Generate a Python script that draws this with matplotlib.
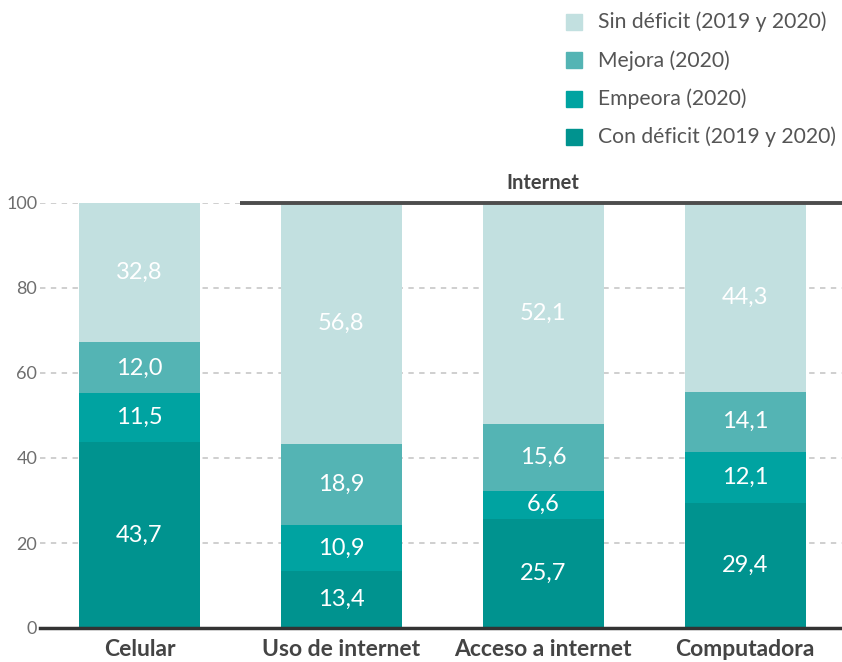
import numpy as np
import matplotlib
matplotlib.use("Agg")
import matplotlib.pyplot as plt
from matplotlib.patches import Rectangle

categorias = ["Celular", "Uso de internet", "Acceso a internet", "Computadora"]
con_deficit = [43.7, 13.4, 25.7, 29.4]
empeora = [11.5, 10.9, 6.6, 12.1]
mejora = [12.0, 18.9, 15.6, 14.1]
sin_deficit = [32.8, 56.8, 52.1, 44.3]

series = [
    ("Con déficit (2019 y 2020)", con_deficit, "#00938f"),
    ("Empeora (2020)", empeora, "#00a3a1"),
    ("Mejora (2020)", mejora, "#54b4b4"),
    ("Sin déficit (2019 y 2020)", sin_deficit, "#c2e0e0"),
]

plt.rcParams["font.family"] = ["Lato", "DejaVu Sans"]

fig = plt.figure(figsize=(8.42, 6.62), dpi=100)
W, H = 842, 662
ax = fig.add_axes([40 / W, 1 - 628 / H, 1 - 40 / W, (628 - 203) / H])

x = np.arange(len(categorias))
bottom = np.zeros(len(categorias))
for nombre, vals, color in series:
    vals = np.array(vals)
    ax.bar(x, vals, width=0.6, bottom=bottom, color=color, zorder=2)
    for xi, b, v in zip(x, bottom, vals):
        ax.text(xi, b + v / 2, f"{v:.1f}".replace(".", ","), ha="center",
                va="center", color="white", fontsize=17, zorder=3)
    bottom += vals

ax.set_xlim(-0.4926, 3.48)
ax.set_ylim(0, 100)
ax.set_yticks([0, 20, 40, 60, 80, 100])
ax.yaxis.grid(True, color="#cccccc", linestyle=(0, (3, 3)), linewidth=1.3, zorder=0)
ax.tick_params(axis="y", length=0, pad=2, labelsize=13, labelcolor="#6e6e6e")
ax.tick_params(axis="x", length=0, pad=8)
ax.set_xticks(x)
ax.set_xticklabels(categorias, fontsize=16.5, fontweight="bold", color="#444444")
for s in ["top", "right", "left"]:
    ax.spines[s].set_visible(False)
ax.spines["bottom"].set_color("#333333")
ax.spines["bottom"].set_linewidth(2.5)
ax.spines["bottom"].set_zorder(4)

# línea de "Internet"
ax.plot([0.5, 3.48], [100, 100], color="#4d4d4d", linewidth=2.8,
        clip_on=False, zorder=4, solid_capstyle="butt")
ax.text(2, 102.4, "Internet", ha="center", va="bottom", fontsize=14.5,
        fontweight="bold", color="#444444")

# leyenda manual
for i, (nombre, vals, color) in enumerate(reversed(series)):
    yc = 1 - (22 + i * 38.3) / H
    fig.patches.append(Rectangle((566 / W, yc - 8 / H), 16 / W, 16 / H,
                                 transform=fig.transFigure, color=color))
    fig.text(598 / W, yc, nombre, ha="left", va="center", fontsize=15.2,
             color="#555555")

fig.savefig("out.png", dpi=100)
